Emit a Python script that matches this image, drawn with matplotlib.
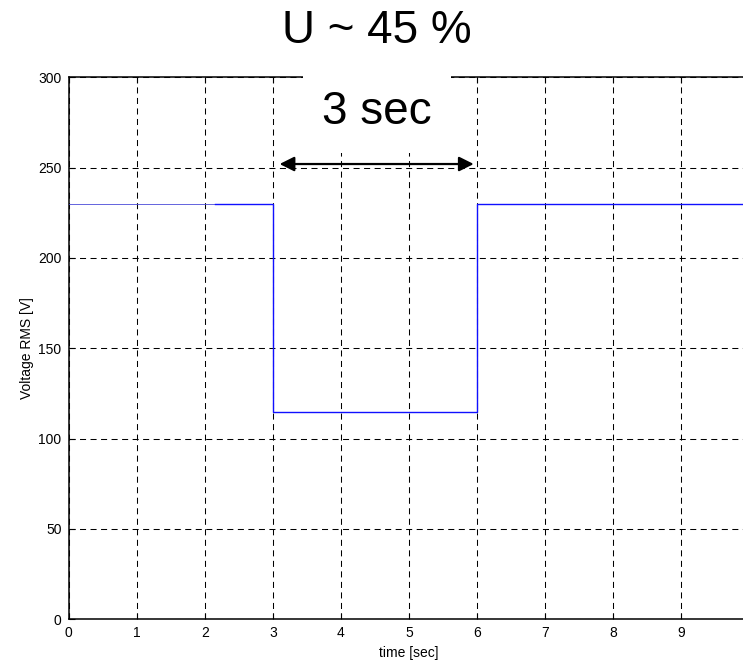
import matplotlib.pyplot as plt
import numpy as np

plt.rcParams['font.family'] = ['Liberation Sans', 'DejaVu Sans']

# thin trace at the start, then the dip trace
pre_time = [0, 2.15]
pre_volt = [230, 230]
dip_time = [2.15, 3, 3, 6, 6, 10]
dip_volt = [230, 230, 115, 115, 230, 230]

x_ticks = np.arange(0, 10)
y_ticks = np.arange(0, 301, 50)

arrow_start, arrow_end, arrow_level = 3.1, 5.95, 252
title_text = 'U ~ 45 %'
span_text = '3 sec'

fig = plt.figure(figsize=(7.43, 6.61), dpi=100)
# axes run past the right edge of the figure, as in the reference
ax = fig.add_axes([68.5 / 743, 41.7 / 661, 681 / 743, 542 / 661])

ax.plot(pre_time, pre_volt, color='#4a4ad8', linewidth=0.6, zorder=4)
ax.plot(dip_time, dip_volt, color='#1010ff', linewidth=1.0, zorder=4)

ax.set_xlim(0, 10)
ax.set_ylim(0, 300)
ax.set_xticks(x_ticks)
ax.set_yticks(y_ticks)
ax.tick_params(direction='in', length=4, width=0.8, top=True, right=True,
               labelsize=10, colors='black', pad=5)
ax.grid(True, color='black', linewidth=0.75, linestyle=(0, (5.8, 4.3)))
for s in ax.spines.values():
    s.set_linewidth(1.1)
    s.set_color('black')

ax.set_xlabel('time [sec]', fontsize=10, labelpad=4)
ax.set_ylabel('Voltage RMS [V]', fontsize=10, labelpad=3)

# double-headed span arrow
ax.annotate('', xy=(arrow_start, arrow_level), xytext=(arrow_end, arrow_level),
            arrowprops=dict(arrowstyle='<|-|>', color='black', lw=1.6,
                            mutation_scale=22, shrinkA=0, shrinkB=0),
            zorder=5)

ax.text(4.53, 281, span_text, ha='center', va='center', fontsize=33,
        zorder=3, bbox=dict(facecolor='white', edgecolor='none', pad=14))

fig.text(377 / 743, 1 - 31 / 661, title_text, ha='center', va='center',
         fontsize=33)

plt.savefig('out.png', dpi=100)
